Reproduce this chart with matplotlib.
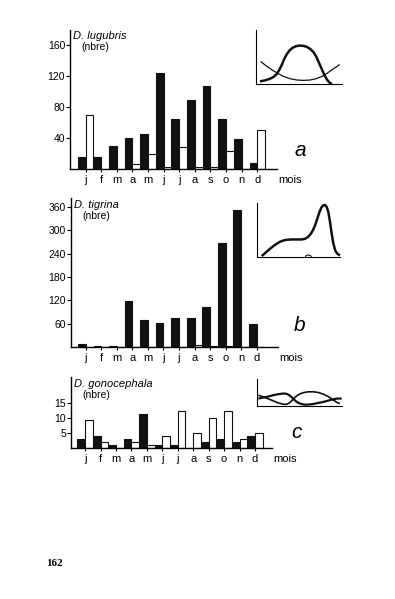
import matplotlib
matplotlib.use("Agg")
import matplotlib.pyplot as plt

plt.rcParams['font.family'] = ['Liberation Sans', 'DejaVu Sans']

months = ['j', 'f', 'm', 'a', 'm', 'j', 'j', 'a', 's', 'o', 'n', 'd']

# D. lugubris (nbre)
lug_black = [15, 15, 29, 40, 45, 124, 65, 89, 107, 64, 38, 8]
lug_white = [70, 0, 0, 7, 19, 3, 28, 3, 3, 23, 0, 50]
# D. tigrina (nbre)
tig_black = [7, 3, 3, 118, 70, 61, 75, 75, 104, 267, 351, 60]
tig_white = [0, 1, 0, 0, 0, 0, 0, 5, 3, 2, 0, 0]
# D. gonocephala (nbre)
gon_black = [3.1, 4.1, 1, 3.1, 11.3, 1, 1, 0, 2, 3.1, 2, 4.1]
gon_white = [9.3, 2.1, 0, 2.1, 1, 4.2, 12.4, 5.2, 10.2, 12.4, 3.1, 5.2]

# inset curves (normalised 0..1)
ins_a_thick_x = [0.047, 0.105, 0.163, 0.202, 0.241, 0.272, 0.300, 0.327, 0.358, 0.389, 0.424, 0.463,
                 0.506, 0.553, 0.591, 0.630, 0.669, 0.700, 0.731, 0.763, 0.794, 0.825, 0.856, 0.883]
ins_a_thick_y = [0.049, 0.067, 0.098, 0.129, 0.184, 0.264, 0.356, 0.460, 0.552, 0.620, 0.669, 0.699,
                 0.712, 0.706, 0.687, 0.650, 0.589, 0.509, 0.399, 0.282, 0.172, 0.080, 0.025, 0.0]
ins_a_thin_x = [0.054, 0.093, 0.144, 0.202, 0.261, 0.319, 0.397, 0.475, 0.553, 0.630, 0.700, 0.767,
                0.825, 0.883, 0.942, 0.973]
ins_a_thin_y = [0.417, 0.368, 0.307, 0.245, 0.190, 0.141, 0.098, 0.074, 0.067, 0.074, 0.098, 0.141,
                0.196, 0.264, 0.325, 0.362]

ins_b_thick_x = [0.06, 0.088, 0.12, 0.16, 0.2, 0.24, 0.28, 0.32, 0.36, 0.42, 0.48, 0.54, 0.58, 0.612,
                 0.644, 0.676, 0.704, 0.728, 0.752, 0.776, 0.8, 0.82, 0.84, 0.86, 0.88, 0.9, 0.92,
                 0.944, 0.972, 1.0]
ins_b_thick_y = [0.012, 0.049, 0.093, 0.148, 0.198, 0.241, 0.278, 0.302, 0.315, 0.321, 0.321, 0.321,
                 0.333, 0.364, 0.414, 0.494, 0.599, 0.710, 0.827, 0.914, 0.957, 0.963, 0.926, 0.833,
                 0.648, 0.432, 0.247, 0.111, 0.049, 0.025]
ins_b_bump_x = [0.58, 0.6, 0.62, 0.64, 0.66]
ins_b_bump_y = [0.0, 0.025, 0.031, 0.025, 0.0]

ins_c_1_x = [0.020, 0.078, 0.137, 0.196, 0.255, 0.314, 0.353, 0.384, 0.412, 0.439, 0.471, 0.510,
             0.557, 0.608, 0.667, 0.725, 0.784, 0.843, 0.902, 0.949, 1.0]
ins_c_1_y = [0.284, 0.321, 0.358, 0.407, 0.444, 0.469, 0.457, 0.407, 0.333, 0.247, 0.160, 0.099,
             0.062, 0.062, 0.086, 0.123, 0.160, 0.210, 0.259, 0.284, 0.284]
ins_c_2_x = [0.020, 0.078, 0.137, 0.196, 0.255, 0.314, 0.353, 0.384, 0.412, 0.439, 0.471, 0.510,
             0.557, 0.608, 0.667, 0.725, 0.784, 0.843, 0.894, 0.941, 0.980]
ins_c_2_y = [0.407, 0.346, 0.272, 0.198, 0.123, 0.074, 0.074, 0.123, 0.198, 0.296, 0.383, 0.457,
             0.506, 0.531, 0.531, 0.506, 0.444, 0.358, 0.247, 0.148, 0.099]

W, H = 395, 599
fig = plt.figure(figsize=(W / 100, H / 100), dpi=100)


def px_axes(l, t, r, b):
    return fig.add_axes([l / W, 1 - b / H, (r - l) / W, (b - t) / H])


def bar_panel(box, xlim, ylim, yticks, black, white, title, letter, title_xy, letter_xy):
    ax = px_axes(*box)
    x = list(range(len(months)))
    ax.bar([i - 0.25 for i in x], black, width=0.5, color='#111111',
           edgecolor='#111111', linewidth=0.8)
    ax.bar([i + 0.25 for i in x], white, width=0.5, color='white',
           edgecolor='#111111', linewidth=0.8)
    ax.set_xlim(*xlim)
    ax.set_ylim(*ylim)
    ax.spines['top'].set_visible(False)
    ax.spines['right'].set_visible(False)
    ax.spines['left'].set_linewidth(1.0)
    ax.spines['bottom'].set_linewidth(1.0)
    ax.set_xticks(x)
    ax.set_xticklabels(months, fontsize=8)
    ax.set_yticks(yticks)
    ax.set_yticklabels([str(v) for v in yticks], fontsize=7.5)
    ax.tick_params(axis='x', length=2.5, width=0.8, pad=1.5)
    ax.tick_params(axis='y', length=3, width=0.8, pad=0.5)
    # 'mois' sits on the same line as the month labels
    ax.annotate('mois', xy=(1.0, 0), xycoords='axes fraction', xytext=(1, -4),
                textcoords='offset points', ha='left', va='top', fontsize=8)
    tx, ty = title_xy
    fig.text(tx / W, 1 - ty / H, title, fontsize=8, style='italic', va='center')
    fig.text((tx + 8) / W, 1 - (ty + 11) / H, '(nbre)', fontsize=7.5, va='center')
    lx, ly = letter_xy
    fig.text(lx / W, 1 - ly / H, letter, fontsize=15, style='italic',
             ha='center', va='center')
    return ax


def inset(box, curves):
    ax = px_axes(*box)
    for cx, cy, lw in curves:
        ax.plot(cx, cy, color='#111111', linewidth=lw, clip_on=False,
                solid_joinstyle='round', solid_capstyle='butt')
    ax.set_xlim(0, 1)
    ax.set_ylim(0, 1)
    ax.spines['top'].set_visible(False)
    ax.spines['right'].set_visible(False)
    ax.set_xticks([])
    ax.set_yticks([])
    return ax


bar_panel((70, 30, 277, 169), (-1.0, 12.26), (0, 179), [40, 80, 120, 160],
          lug_black, lug_white, 'D. lugubris', 'a', (73, 36), (300, 150))
bar_panel((70.5, 198, 278, 347), (-0.98, 12.37), (0, 383), [60, 120, 180, 240, 300, 360],
          tig_black, tig_white, 'D. tigrina', 'b', (74, 205), (300, 325))
bar_panel((70.7, 377, 272, 448.3), (-0.93, 12.1), (0, 23.8), [5, 10, 15],
          gon_black, gon_white, 'D. gonocephala', 'c', (74, 384), (297, 433))

inset((256, 30, 342, 84), [(ins_a_thick_x, ins_a_thick_y, 1.8),
                           (ins_a_thin_x, ins_a_thin_y, 0.9)])
inset((256.7, 203, 340, 256.7), [(ins_b_thick_x, ins_b_thick_y, 1.8),
                                 (ins_b_bump_x, ins_b_bump_y, 0.8)])
inset((256.7, 379, 341.7, 406.3), [(ins_c_1_x, ins_c_1_y, 1.6),
                                   (ins_c_2_x, ins_c_2_y, 1.2)])

fig.text(46 / W, 1 - 564 / H, '162', fontsize=8, fontweight='bold',
         family='Liberation Serif', va='center')

fig.savefig('out.png', dpi=100)
